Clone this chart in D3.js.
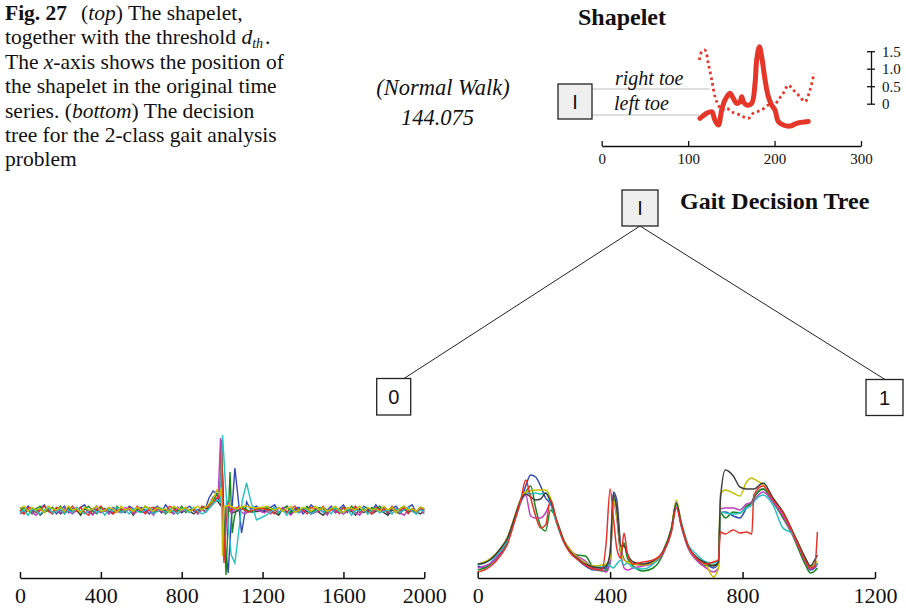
<!DOCTYPE html>
<html><head><meta charset="utf-8">
<script src="https://cdn.jsdelivr.net/npm/d3@7"></script>
<style>body{margin:0;background:#fff}svg{display:block}</style>
</head><body><svg id="c" width="906" height="608"></svg>
<script>
// ---------- DATA ----------
// Shapelet (position in original series, value)
const leftToeX  = [113.7,121.5,127.3,131,135,138.8,142.7,148.4,152.3,156.2,160,162,163.8,167.8,173.5,177.4,179.3,182.4,185.1,189,192.8,196.7,200.5,204.3,210.1,217.9,225.6,239];
const leftToeV  = [-0.42,-0.27,-0.23,-0.47,-0.61,-0.18,0.11,0.30,0.15,0.01,0.06,0.20,0.06,-0.04,0.01,0.58,1.25,1.63,1.34,0.68,0.20,-0.04,-0.18,-0.51,-0.61,-0.64,-0.56,-0.51];
const rightToeX = [113,115.7,119.5,123.3,127.3,131.1,135,138.8,144.6,150.4,160,169.6,175.4,185.1,192.8,198.5,204.3,210.1,215.9,221.7,229.4,235.2,241,245.6];
const rightToeV = [1.25,1.49,1.53,1.15,0.68,0.20,-0.04,-0.18,-0.13,-0.23,-0.32,-0.42,-0.27,-0.18,-0.04,-0.09,0.11,0.30,0.53,0.39,0.20,0.06,0.39,0.87];
const shapeXTicks = [0,100,200,300];
const shapeYTicks = [0,0.5,1.0,1.5];
const shapeYLabels = ["0","0.5","1.0","1.5"];

// Class 0 series (left panel): noise samples every 20 steps + burst segment
const noiseStep = 20;
const noiseUnit = 0.13;
const nBlack = [-1,-3,0,-2,1,-4,-1,0,-2,1,-3,-1,2,-2,0,-4,1,-1,-3,0,-2,1,-1,-3,0,-2,-1,1,-4,0,-2,-1,0,-3,1,-2,0,-1,-3,1,-2,0,-1,-3,0,1,-2,-4,0,-1,-3,0,-2,1,-1,-4,0,-2,-1,1,-3,-1,0,-2,-4,1,-1,-3,0,-2,1,-1,-3,0,-2,-4,0,1,-2,-1,-3,0,-1,-4,1,-2,0,-3,-1,1,-2,-4,0,-1,-3,1,-2,0,-1,-3,-1];
const nBlue  = [2,-1,3,0,-2,1,4,-1,2,-3,0,3,-2,1,-1,2,4,-2,0,3,-1,1,-3,2,0,1,-2,3,1,-1,2,0,-3,1,3,-2,4,0,-1,2,-2,1,3,-1,0,2,-3,1,4,-1,-2,3,0,2,-1,4,1,-2,0,3,1,-1,2,4,-2,0,3,-1,1,2,-3,0,4,1,-1,2,0,3,-2,1,4,-1,0,2,-2,3,1,-1,4,0,2,-3,1,3,-1,0,2,4,-2,1,0];
const nGreen = [-1,2,0,-3,1,3,-2,0,2,-1,3,-3,1,0,2,-2,1,3,-1,-3,2,0,1,-2,3,-1,0,2,-3,1,-1,3,0,-2,2,1,-3,0,2,-1,3,-2,0,1,-3,2,0,-1,3,1,-2,0,3,-1,1,-3,2,0,-2,3,1,-1,0,2,-3,1,3,-2,0,1,-1,3,-2,0,2,1,-3,1,0,-1,2,-2,3,0,-1,1,-3,2,0,3,-1,0,2,-2,1,3,-1,0,-3,2,1];
const nMag   = [-3,-1,1,-2,-4,0,-1,2,-3,0,-2,1,-1,-3,0,2,-2,-1,-4,1,-2,0,-3,1,-1,-2,2,0,-3,-1,1,-2,0,-4,1,-1,-2,0,-3,2,-1,0,-2,1,-3,0,-1,-2,1,-3,-4,-1,0,-2,1,-3,-1,0,-4,-2,1,-1,-3,0,-2,2,-1,-4,0,-2,-1,1,-3,-2,0,-1,-4,1,-2,0,-3,-1,1,-2,-4,0,-1,-3,1,-2,0,-1,-3,1,-2,-4,0,-1,-2,1,-3];
const nRed   = [0,-3,2,1,-2,0,3,-1,-3,2,1,-2,0,3,-1,2,-2,-4,1,0,3,-1,2,-3,0,1,-1,2,-2,3,0,-3,1,2,-1,0,-2,3,1,-3,0,2,-1,1,-2,3,-1,0,2,-3,1,-2,3,0,-1,2,-3,1,0,-2,3,1,-1,-3,2,0,-2,1,3,-1,0,-3,2,1,-1,3,-2,0,1,-3,2,-1,0,3,-2,1,-1,-3,2,0,1,-2,3,-1,0,2,-3,1,-1,2,0];
const nCyan  = [-2,0,-4,1,-1,-3,0,2,-2,-1,1,-3,0,-2,2,-1,-3,0,1,-2,0,-4,1,-1,2,-2,0,-3,1,-1,-2,0,2,-3,-1,1,-2,0,-1,-3,1,0,-2,2,-1,-3,0,1,-2,0,-1,-3,1,-2,0,2,-4,-1,1,-2,0,-3,-1,2,-2,0,-4,1,-1,-2,2,0,-3,-1,1,-2,0,-3,2,-1,-2,1,-4,0,-1,2,-3,0,1,-2,-1,0,-3,1,-2,0,2,-1,-3,0,-1];
const nYel   = [1,3,-1,2,0,1,-2,3,1,0,2,-1,3,0,1,-2,2,0,1,3,-1,0,2,1,-2,3,0,1,-1,2,0,3,1,-1,2,0,1,-2,3,1,0,2,-1,1,3,0,-1,2,1,0,3,1,-1,2,0,-2,3,1,0,2,-1,3,1,0,2,-1,1,3,-2,0,2,1,-1,3,0,2,-1,1,3,0,-2,2,1,0,3,-1,2,0,1,-1,3,0,2,-2,1,3,0,1,-1,2,1];

const bBlackX = [920,956,980,995,1000,1008,1020,1050,1100,1150,1200];
const bBlackV = [-0.2,1.3,0.8,0.4,5.0,-4.0,0.2,-0.3,0.1,-0.2,-0.1];
const bBlueX  = [920,935,955,975,988,996,1004,1015,1030,1045,1063,1080,1096,1110,1121,1140,1170,1200,1230];
const bBlueV  = [0.3,1.2,1.9,1.6,0.8,6.8,2.0,-3.5,-6.3,-1.0,4.2,1.0,-2.3,-0.6,0.8,0.1,0.4,-0.2,0.3];
const bGreenX = [920,950,975,990,997,1008,1019,1030,1039,1050,1060,1071,1100,1140,1180,1220];
const bGreenV = [0.1,0.8,1.6,1.0,7.0,-1.0,-6.5,-1.0,3.8,-2.3,-0.8,0.1,0.3,-0.2,0.1,0.2];
const bMagX   = [920,955,980,992,1000,1009,1020,1030,1045,1070,1110,1160,1210];
const bMagV   = [-0.2,0.6,1.2,7.2,1.0,-5.0,-1.5,0.7,-0.3,0.2,-0.4,0.1,-0.3];
const bRedX   = [920,955,980,990,997,1003,1009,1016,1022,1040,1080,1130,1180,1230];
const bRedV   = [0.2,0.7,1.4,1.0,6.5,0.5,-5.3,-2.0,1.0,0.0,0.3,-0.2,0.2,0.0];
const bCyanX  = [920,950,975,990,1002,1015,1030,1045,1063,1080,1100,1121,1140,1170,1200,1220,1245];
const bCyanV  = [-0.2,0.5,1.0,0.8,7.5,3.0,-1.5,-4.5,-5.3,-2.5,1.0,2.7,1.0,-1.0,-0.7,-0.5,-0.1];
const bYelX   = [920,950,973,990,996,1002,1009,1030,1070,1110,1160,1210];
const bYelV   = [0.3,0.9,2.0,1.5,2.3,-4.6,0.3,0.5,0.1,0.4,0.2,0.3];
const leftTicks = [0,400,800,1200,1600,2000];

// Class 1 series (right panel)
const gaitX = [0,20,40,70,90,110,130,145,160,175,190,205,220,240,260,280,300,325,350,375,388,400,410,420,432,442,452,470,500,530,560,585,600,615,635,660,690,712,727,733,748,772,792,812,828,834,862,892,922,952,975,990,1005,1018,1026];
const gBlue  = [1.2,1.0,1.5,2.6,3.7,5.6,7.6,9.2,10.3,10.1,9.2,8.0,7.4,5.4,3.6,2.5,1.9,1.2,0.8,0.9,1.0,2.5,8.6,7.8,3.2,1.9,1.6,1.4,1.3,1.5,2.5,4.7,7.3,5.2,3.2,2.1,1.4,1.0,1.5,6.5,6.6,6.2,6.0,7.0,7.6,8.0,8.9,7.9,6.5,4.5,2.8,1.6,0.8,1.0,1.4];
const gGreen = [0.8,1.0,1.4,2.5,3.6,5.7,7.8,8.6,9.2,7.0,5.2,4.7,6.8,5.6,3.8,2.7,2.3,2.2,1.0,0.7,0.8,1.5,8.0,6.5,2.5,3.5,2.0,1.2,0.7,1.0,2.4,4.9,7.5,5.3,3.2,1.9,1.2,1.3,1.4,6.5,6.0,6.6,6.5,7.2,7.6,8.0,8.9,7.6,6.0,4.2,2.4,1.3,0.5,0.7,1.0];
const gMag   = [1.0,1.2,1.5,2.6,3.8,5.7,7.6,8.3,6.2,6.0,6.0,6.5,7.5,5.5,3.8,2.8,2.2,1.7,1.0,0.8,0.6,1.6,7.6,6.0,2.5,1.0,0.8,1.0,1.2,1.5,2.5,4.8,7.3,5.2,3.0,1.8,1.0,0.6,1.0,6.9,7.0,7.0,6.8,7.4,7.6,7.8,8.6,7.6,6.2,4.3,2.7,1.6,0.9,1.1,1.5];
const gCyan  = [1.3,1.5,1.8,2.8,3.8,5.8,7.7,8.6,8.4,8.5,8.4,8.5,7.5,5.3,3.6,2.6,2.0,1.5,1.2,1.1,1.3,1.2,1.0,1.4,1.8,1.3,1.5,1.0,0.9,1.4,2.7,5.0,7.3,5.6,3.4,2.4,1.6,1.5,1.8,6.6,6.5,6.4,6.5,7.0,7.3,7.6,8.3,7.3,5.0,4.4,2.9,1.8,1.1,1.3,1.5];
const gYel   = [1.4,1.6,2.0,3.0,4.1,6.0,7.9,8.6,8.7,8.8,8.8,8.8,8.0,5.5,3.8,2.8,2.1,1.5,1.2,1.3,1.4,2.0,7.8,6.2,2.8,1.8,1.6,1.4,1.3,1.6,2.7,5.0,7.8,5.4,3.2,2.0,1.3,0.1,1.0,8.4,8.8,8.5,8.2,9.6,10.0,9.9,9.3,7.9,6.6,4.6,3.0,1.9,1.1,1.4,1.7];
const gBlack = [1.4,1.5,1.9,3.0,4.0,5.9,7.8,8.4,8.1,7.8,7.9,8.5,7.7,5.6,3.7,2.6,2.0,1.4,1.1,1.0,1.2,2.5,8.4,7.0,3.2,3.2,2.4,1.6,1.4,1.7,2.7,4.9,7.5,5.4,3.2,2.1,1.5,1.2,1.6,7.8,10.8,10.2,9.1,8.9,8.9,8.9,9.5,8.0,6.6,4.6,3.0,2.0,1.2,1.8,2.3];
const gRed   = [0.6,0.8,1.2,2.3,3.4,5.5,7.8,9.8,8.0,6.2,5.0,5.3,7.8,5.5,3.6,2.5,1.9,1.3,0.9,0.8,3.5,8.9,6.0,3.0,2.0,4.5,2.5,1.4,1.6,1.8,2.6,4.6,7.0,5.3,3.2,2.0,1.4,1.6,1.8,4.6,4.4,4.8,4.5,4.6,4.4,8.3,9.2,7.8,6.5,4.5,2.8,1.7,1.0,1.2,4.6];
const rightTicks = [0,400,800,1200];

const COL = {k:"#3d3d3d", b:"#3248b2", g:"#15881c", m:"#c040c0", r:"#e5332a", c:"#26c2c2", y:"#c6bf00"};

// ---------- DRAW ----------
const svg = d3.select("#c");
svg.append("rect").attr("width",906).attr("height",608).attr("fill","#fff");
const SERIF = "'Liberation Serif','Times New Roman',serif";
const SANS = "'Liberation Sans',Arial,sans-serif";

// caption
const capLines = [
  [["Fig. 27","b"],["(","",14],["top","i"],[") The shapelet,",""]],
  [["together with the threshold ",""],["d","i"],["th","sub"],[".","sup"]],
  [["The ",""],["x","i"],["-axis shows the position of",""]],
  [["the shapelet in the original time",""]],
  [["series. (",""],["bottom","i"],[") The decision",""]],
  [["tree for the 2-class gait analysis",""]],
  [["problem",""]]
];
capLines.forEach((ln,i)=>{
  const t = svg.append("text").attr("x",5).attr("y",20+i*24.4)
    .attr("font-family",SERIF).attr("font-size",21.5).attr("fill","#111");
  ln.forEach(s=>{
    const sp = t.append("tspan").text(s[0]);
    if(s[1]==="b") sp.attr("font-weight","bold");
    if(s[1]==="i") sp.attr("font-style","italic");
    if(s[1]==="sub") sp.attr("font-style","italic").attr("font-size",14).attr("dy",3.5);
    if(s[1]==="sup") sp.attr("dy",-3.5).attr("dx",2);
    if(s[2]) sp.attr("dx",s[2]);
  });
});

// titles
svg.append("text").attr("x",578).attr("y",25).attr("font-family",SERIF).attr("font-weight","bold")
  .attr("font-size",24).attr("fill","#111").text("Shapelet");
svg.append("text").attr("x",680).attr("y",209).attr("font-family",SERIF).attr("font-weight","bold")
  .attr("font-size",24).attr("fill","#111").text("Gait Decision Tree");
svg.append("text").attr("x",443).attr("y",95).attr("text-anchor","middle").attr("font-family",SERIF)
  .attr("font-style","italic").attr("font-size",22.5).attr("fill","#111").text("(Normal Walk)");
svg.append("text").attr("x",437.5).attr("y",125).attr("text-anchor","middle").attr("font-family",SERIF)
  .attr("font-style","italic").attr("font-size",22.5).attr("fill","#111").text("144.075");

// shapelet panel
const sx = d3.scaleLinear([0,300],[601.7,861]);
const sy = d3.scaleLinear([0,1.5],[103.7,51.2]);
svg.append("line").attr("x1",592).attr("x2",710).attr("y1",89).attr("y2",89).attr("stroke","#bdbdbd").attr("stroke-width",1.2);
svg.append("line").attr("x1",592).attr("x2",699).attr("y1",115).attr("y2",115).attr("stroke","#bdbdbd").attr("stroke-width",1.2);
svg.append("text").attr("x",615).attr("y",85).attr("font-family",SERIF).attr("font-style","italic")
  .attr("font-size",20).attr("fill","#111").text("right toe");
svg.append("text").attr("x",614).attr("y",110).attr("font-family",SERIF).attr("font-style","italic")
  .attr("font-size",20).attr("fill","#111").text("left toe");

const sLine = d3.line().x(d=>sx(d[0])).y(d=>sy(d[1])).curve(d3.curveCatmullRom);
svg.append("path").datum(rightToeX.map((x,i)=>[x,rightToeV[i]])).attr("d",sLine)
  .attr("fill","none").attr("stroke","#e5362a").attr("stroke-width",2.8).attr("stroke-dasharray","2.6,3.2");
svg.append("path").datum(leftToeX.map((x,i)=>[x,leftToeV[i]])).attr("d",sLine)
  .attr("fill","none").attr("stroke","#e5362a").attr("stroke-width",5).attr("stroke-linecap","round").attr("stroke-linejoin","round");

const sxAxis = svg.append("g").attr("transform","translate(0,146)")
  .call(d3.axisBottom(sx).tickValues(shapeXTicks).tickSizeInner(-5).tickSizeOuter(0));
sxAxis.selectAll("path,line").attr("stroke","#111").attr("stroke-width",1.3);
sxAxis.selectAll("text").attr("font-family",SERIF).attr("font-size",15).attr("fill","#111").attr("y",7);

const syAxis = svg.append("g").attr("transform","translate(871,0)")
  .call(d3.axisRight(sy).tickValues(shapeYTicks).tickSize(4).tickSizeOuter(0).tickFormat((d,i)=>shapeYLabels[i]));
syAxis.selectAll("path,line").attr("stroke","#111").attr("stroke-width",1.3);
syAxis.selectAll(".tick line").attr("x1",-4).attr("x2",4);
syAxis.selectAll("text").attr("font-family",SERIF).attr("font-size",15).attr("fill","#111").attr("x",11);

// boxes
function box(x,y,w,h,label,fill){
  svg.append("rect").attr("x",x).attr("y",y).attr("width",w).attr("height",h)
    .attr("fill",fill).attr("stroke","#222").attr("stroke-width",1.3);
  svg.append("text").attr("x",x+w/2).attr("y",y+h/2+7).attr("text-anchor","middle")
    .attr("font-family",SANS).attr("font-size",20).attr("fill","#111").text(label);
}
// tree edges
svg.append("line").attr("x1",640).attr("y1",226).attr("x2",404).attr("y2",378.5).attr("stroke","#222").attr("stroke-width",1);
svg.append("line").attr("x1",640).attr("y1",226).attr("x2",885).attr("y2",379.5).attr("stroke","#222").attr("stroke-width",1);
box(558,84,34,35,"I","#efefef");
box(622,190,36,36,"I","#efefef");
box(376.7,378.5,34,36.5,"0","#fff");
box(866,379.5,37,36,"1","#fff");

// left panel
const lx = d3.scaleLinear([0,2000],[20,424.3]);
const ly = d3.scaleLinear([-7,8],[580,430]);
function merge(noise, bx, bv){
  const pts = noise.map((n,i)=>[i*noiseStep, n*noiseUnit]).filter(p=>p[0]<bx[0] || p[0]>bx[bx.length-1]);
  bx.forEach((x,i)=>pts.push([x,bv[i]]));
  return pts.sort((a,b)=>a[0]-b[0]);
}
const leftSeries = [
  [nBlack,bBlackX,bBlackV,COL.k],[nBlue,bBlueX,bBlueV,COL.b],[nGreen,bGreenX,bGreenV,COL.g],
  [nMag,bMagX,bMagV,COL.m],[nRed,bRedX,bRedV,COL.r],[nCyan,bCyanX,bCyanV,COL.c],[nYel,bYelX,bYelV,COL.y]
];
const lLine = d3.line().x(d=>lx(d[0])).y(d=>ly(d[1]));
leftSeries.forEach(s=>{
  svg.append("path").datum(merge(s[0],s[1],s[2])).attr("d",lLine)
    .attr("fill","none").attr("stroke",s[3]).attr("stroke-width",1.4);
});
const lAxis = svg.append("g").attr("transform","translate(0,578)")
  .call(d3.axisBottom(lx).tickValues(leftTicks).tickSizeInner(-6).tickSizeOuter(0).tickFormat(d3.format("d")));
lAxis.selectAll("path,line").attr("stroke","#111").attr("stroke-width",1.5);
lAxis.selectAll("text").attr("font-family",SERIF).attr("font-size",22).attr("fill","#111").attr("y",9);

// right panel
const rx = d3.scaleLinear([0,1200],[477.7,875]);
const ry = d3.scaleLinear([0,11],[578,468]);
const rightSeries = [[gBlue,COL.b],[gGreen,COL.g],[gMag,COL.m],[gCyan,COL.c],[gYel,COL.y],[gBlack,COL.k],[gRed,COL.r]];
const rLine = d3.line().x((d,i)=>rx(gaitX[i])).y(d=>ry(d)).curve(d3.curveMonotoneX);
rightSeries.forEach(s=>{
  svg.append("path").datum(s[0]).attr("d",rLine)
    .attr("fill","none").attr("stroke",s[1]).attr("stroke-width",1.5);
});
const rAxis = svg.append("g").attr("transform","translate(0,578)")
  .call(d3.axisBottom(rx).tickValues(rightTicks).tickSizeInner(-6).tickSizeOuter(0).tickFormat(d3.format("d")));
rAxis.selectAll("path,line").attr("stroke","#111").attr("stroke-width",1.5);
rAxis.selectAll("text").attr("font-family",SERIF).attr("font-size",22).attr("fill","#111").attr("y",9);
</script></body></html>
